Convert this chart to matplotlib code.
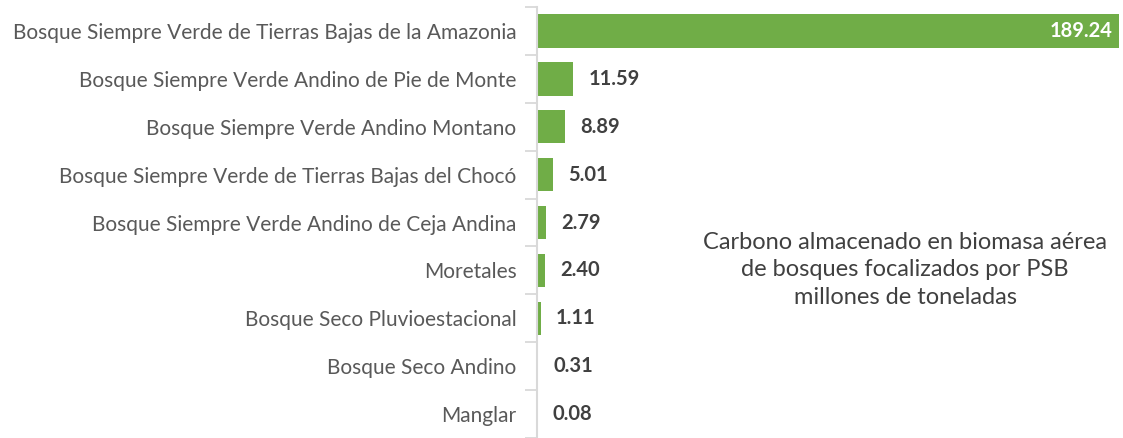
import numpy as np
import matplotlib.pyplot as plt

categories = [
    "Bosque Siempre Verde de Tierras Bajas de la Amazonia",
    "Bosque Siempre Verde Andino de Pie de Monte",
    "Bosque Siempre Verde Andino Montano",
    "Bosque Siempre Verde de Tierras Bajas del Chocó",
    "Bosque Siempre Verde Andino de Ceja Andina",
    "Moretales",
    "Bosque Seco Pluvioestacional",
    "Bosque Seco Andino",
    "Manglar",
]
values = [189.24, 11.59, 8.89, 5.01, 2.79, 2.40, 1.11, 0.31, 0.08]
note = "Carbono almacenado en biomasa aérea\nde bosques focalizados por PSB\nmillones de toneladas"

plt.rcParams['font.family'] = ['Lato', 'DejaVu Sans']

fig = plt.figure(figsize=(11.23, 4.38), dpi=100)
ax = fig.add_axes([0.4785, 0.0, 0.5185, 0.984])

y = np.arange(len(categories))
ax.barh(y, values, height=0.7, color='#70AD47')
ax.set_ylim(len(categories) - 0.5, -0.5)
ax.set_xlim(0, max(values) * 1.0005)

ax.set_yticks(y)
ax.set_yticklabels(categories, fontsize=15, color='#595959')
ax.tick_params(axis='y', length=0, pad=15)
ax.set_yticks(np.arange(len(categories) + 1) - 0.5, minor=True)
ax.tick_params(axis='y', which='minor', length=9, width=1.3, color='#D9D9D9', direction='out')
ax.set_xticks([])

for s in ['top', 'right', 'bottom']:
    ax.spines[s].set_visible(False)
ax.spines['left'].set_color('#D9D9D9')
ax.spines['left'].set_linewidth(1.5)

for i, v in enumerate(values):
    if i == 0:
        ax.annotate(f"{v:.2f}", (v, i), xytext=(-5, 0), textcoords='offset points',
                    ha='right', va='center', fontsize=14.5, fontweight='bold', color='white')
    else:
        ax.annotate(f"{v:.2f}", (v, i), xytext=(11, 0), textcoords='offset points',
                    ha='left', va='center', fontsize=14.5, fontweight='bold', color='#404040')

fig.text(0.806, 0.384, note, ha='center', va='center', fontsize=17,
         color='#404040', linespacing=1.4)

fig.savefig('out.png', dpi=100)
